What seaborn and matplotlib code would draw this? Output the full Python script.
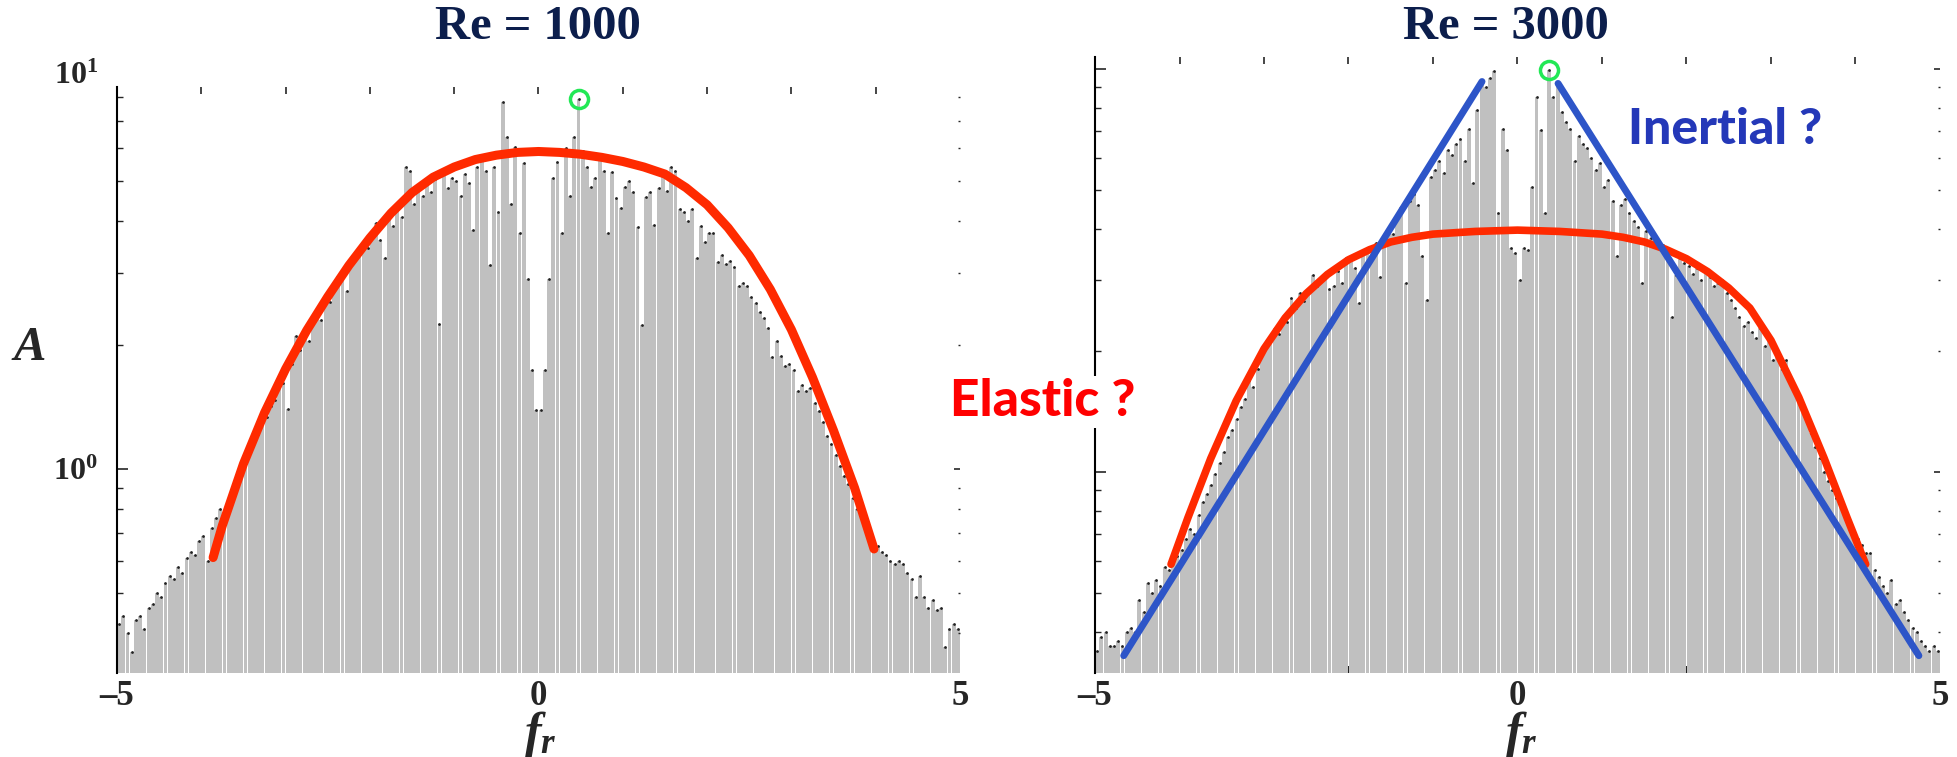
import numpy as np
import matplotlib
matplotlib.use("Agg")
import matplotlib.pyplot as plt
import seaborn as sns

# bin centres of the f_r axis (step 0.05)
f_r = np.round(np.arange(-4.975, 5.0, 0.05), 3)

# spectrum amplitude A, Re = 1000 (20 bins per unit of f_r)
amp_re1000 = [
    0.42, 0.44, 0.40, 0.36, 0.43, 0.44, 0.41, 0.46, 0.47, 0.50, 0.49, 0.53, 0.55, 0.54, 0.58, 0.56, 0.61, 0.63, 0.62, 0.67,
    0.69, 0.60, 0.72, 0.76, 0.80, 0.78, 0.84, 0.90, 0.93, 1.00, 1.06, 1.10, 1.18, 1.22, 1.30, 1.34, 1.42, 1.47, 1.58, 1.62,
    1.40, 1.80, 2.10, 1.95, 2.10, 2.05, 2.30, 2.38, 2.30, 2.60, 2.55, 2.75, 2.95, 3.00, 2.70, 3.20, 3.35, 3.30, 3.55, 3.45,
    3.70, 3.95, 3.60, 3.25, 4.20, 3.90, 4.35, 4.10, 5.40, 5.30, 4.40, 4.85, 4.60, 5.00, 4.70, 5.05, 2.25, 5.20, 4.80, 5.10,
    5.00, 4.60, 5.20, 4.95, 3.80, 5.40, 5.80, 5.30, 3.13, 5.40, 4.20, 7.80, 6.39, 4.40, 6.04, 3.74, 5.53, 2.90, 1.74, 1.39,
    1.39, 1.74, 2.90, 5.10, 5.56, 3.74, 6.00, 4.60, 6.40, 7.90, 5.90, 5.40, 4.85, 5.10, 5.80, 5.30, 3.74, 5.25, 4.55, 4.30,
    4.85, 5.00, 4.70, 3.87, 2.24, 4.58, 4.70, 3.92, 4.80, 5.24, 4.74, 5.40, 5.30, 4.27, 4.20, 4.00, 4.27, 3.25, 3.90, 3.55,
    3.75, 3.75, 3.18, 3.30, 3.15, 3.20, 3.10, 2.78, 2.83, 2.78, 2.62, 2.53, 2.40, 2.33, 2.20, 1.87, 2.05, 1.88, 1.78, 1.80,
    1.74, 1.55, 1.60, 1.55, 1.57, 1.45, 1.38, 1.30, 1.20, 1.15, 1.08, 1.02, 0.96, 0.92, 0.85, 0.80, 0.78, 0.74, 0.70, 0.66,
    0.65, 0.63, 0.62, 0.60, 0.59, 0.60, 0.59, 0.56, 0.54, 0.49, 0.55, 0.49, 0.46, 0.48, 0.455, 0.46, 0.37, 0.41, 0.42, 0.41,
]

# spectrum amplitude A, Re = 3000
amp_re3000 = [
    0.36, 0.39, 0.40, 0.37, 0.37, 0.38, 0.37, 0.40, 0.41, 0.40, 0.48, 0.45, 0.53, 0.50, 0.54, 0.52, 0.58, 0.57, 0.60, 0.62,
    0.64, 0.68, 0.72, 0.70, 0.78, 0.84, 0.88, 0.93, 0.99, 1.05, 1.12, 1.22, 1.27, 1.35, 1.45, 1.52, 1.69, 1.62, 1.80, 1.95,
    2.05, 2.15, 2.28, 2.20, 2.42, 2.35, 2.70, 2.55, 2.78, 2.65, 2.85, 3.08, 2.90, 3.00, 3.05, 2.85, 2.90, 3.15, 2.95, 3.40,
    3.43, 3.20, 2.62, 3.50, 3.55, 3.40, 3.70, 3.05, 3.85, 4.00, 3.90, 4.25, 4.55, 2.95, 4.70, 4.90, 4.60, 3.43, 2.67, 5.40,
    5.60, 5.90, 5.50, 6.30, 6.10, 6.50, 6.70, 5.90, 7.10, 5.20, 7.90, 9.30, 9.00, 9.50, 9.85, 4.40, 7.10, 6.30, 3.60, 3.50,
    3.00, 3.60, 3.55, 5.10, 8.50, 7.06, 4.40, 9.95, 8.50, 9.20, 7.80, 7.40, 7.10, 5.90, 6.80, 6.50, 6.35, 6.00, 5.60, 5.85,
    5.10, 5.30, 4.70, 3.43, 4.60, 4.75, 4.40, 4.20, 4.05, 2.95, 3.95, 3.80, 3.70, 3.60, 3.65, 3.50, 2.42, 3.08, 3.40, 3.30,
    3.25, 3.10, 3.20, 3.00, 3.15, 3.05, 2.90, 2.95, 3.00, 2.78, 2.67, 2.55, 2.42, 2.30, 2.35, 2.23, 2.15, 2.28, 2.05, 2.12,
    1.89, 1.95, 1.80, 1.90, 1.70, 1.62, 1.52, 1.40, 1.35, 1.25, 1.15, 1.08, 1.00, 0.95, 0.90, 0.86, 0.82, 0.78, 0.74, 0.70,
    0.68, 0.66, 0.63, 0.63, 0.57, 0.55, 0.52, 0.50, 0.54, 0.47, 0.48, 0.45, 0.43, 0.41, 0.40, 0.38, 0.37, 0.36, 0.37, 0.36,
]

# red "elastic" fit curves
elastic_1000_x = [-3.86, -3.75, -3.5, -3.25, -3.0, -2.75, -2.5, -2.25, -2.0, -1.75, -1.5, -1.25, -1.0, -0.75, -0.5, -0.25, 0.0,
                  0.25, 0.5, 0.75, 1.0, 1.25, 1.5, 1.75, 2.0, 2.25, 2.5, 2.75, 3.0, 3.25, 3.5, 3.75, 3.98]
elastic_1000_y = [0.61, 0.73, 1.03, 1.37, 1.75, 2.17, 2.62, 3.12, 3.64, 4.18, 4.69, 5.11, 5.41, 5.64, 5.78, 5.87, 5.90,
                  5.87, 5.81, 5.71, 5.58, 5.41, 5.20, 4.82, 4.38, 3.85, 3.30, 2.73, 2.18, 1.67, 1.24, 0.90, 0.64]
elastic_3000_x = [-4.1, -3.9, -3.63, -3.33, -3.0, -2.75, -2.5, -2.25, -2.0, -1.75, -1.5, -1.25, -1.0, -0.5, 0.0,
                  0.5, 1.0, 1.25, 1.5, 1.75, 2.0, 2.25, 2.5, 2.75, 3.0, 3.33, 3.63, 3.9, 4.12]
elastic_3000_y = [0.59, 0.77, 1.08, 1.50, 2.02, 2.41, 2.77, 3.09, 3.36, 3.56, 3.72, 3.82, 3.89, 3.95, 3.98,
                  3.95, 3.89, 3.82, 3.72, 3.57, 3.38, 3.14, 2.86, 2.55, 2.12, 1.53, 1.08, 0.77, 0.59]

# blue "inertial" straight lines (Re = 3000)
inertial_left_x = [-4.66, -0.42]
inertial_left_y = [0.35, 9.3]
inertial_right_x = [0.48, 4.75]
inertial_right_y = [9.2, 0.35]

titles = ["Re = 1000", "Re = 3000"]
x_tick_labels = ["\u20135", "0", "5"]

sns.set_style("white")
plt.rcParams["font.family"] = ["Liberation Serif", "DejaVu Sans"]
plt.rcParams["mathtext.fontset"] = "custom"
plt.rcParams["mathtext.rm"] = "Liberation Serif:bold"
plt.rcParams["mathtext.bf"] = "Liberation Serif:bold"
plt.rcParams["mathtext.it"] = "Liberation Serif:italic:bold"

BAR = "#c0c0c0"
RED = "#ff2a00"
BLUE = "#2d55c8"
NAVY = "#0c1e4c"
GREEN = "#22e855"

W, H = 1958, 757
fig = plt.figure(figsize=(W / 100, H / 100), dpi=100)
ax1 = fig.add_axes([117 / W, 84 / H, 843 / W, 586 / H])
ax2 = fig.add_axes([1095 / W, 84 / H, 845 / W, 616 / H])


def draw_panel(ax, amps, ylim):
    ax.set_yscale("log")
    ax.bar(f_r, amps, width=0.046, color=BAR, linewidth=0, zorder=1)
    sns.scatterplot(x=f_r, y=amps, ax=ax, s=4, color="#222222", linewidth=0, zorder=3, legend=False)
    ax.set_xlim(-5, 5)
    ax.set_ylim(*ylim)
    for side in ["top", "right", "bottom"]:
        ax.spines[side].set_visible(False)
    ax.spines["left"].set_color("black")
    ax.spines["left"].set_linewidth(1.5)
    ax.set_xticks([-5, 0, 5])
    ax.set_xticklabels(x_tick_labels, fontsize=25, fontweight="bold")
    ax.tick_params(axis="x", which="major", length=0, pad=5)
    ax.tick_params(axis="y", which="major", direction="in", length=8, width=1.2, left=True, right=False)
    ax.tick_params(axis="y", which="minor", direction="in", length=4, width=1.0, left=True, right=False)
    ax.yaxis.set_minor_locator(matplotlib.ticker.LogLocator(base=10, subs=np.arange(2, 10)))
    ax.yaxis.set_minor_formatter(matplotlib.ticker.NullFormatter())
    ax.set_xlabel("")
    ax.set_ylabel("")
    # tick marks along the top
    top = ax.secondary_xaxis("top")
    top.set_xticks(np.arange(-4, 5))
    top.set_xticklabels([])
    top.tick_params(direction="in", length=5, width=1.2)
    top.spines["top"].set_visible(False)
    # tick marks along the right
    rt = ax.twinx()
    rt.set_yscale("log")
    rt.set_ylim(*ylim)
    for side in ["top", "right", "bottom", "left"]:
        rt.spines[side].set_visible(False)
    rt.yaxis.set_minor_locator(matplotlib.ticker.LogLocator(base=10, subs=np.arange(2, 10)))
    rt.yaxis.set_minor_formatter(matplotlib.ticker.NullFormatter())
    rt.yaxis.set_major_formatter(matplotlib.ticker.NullFormatter())
    rt.tick_params(axis="y", which="major", direction="in", length=4, width=1.2)
    rt.tick_params(axis="y", which="minor", direction="in", length=1.2, width=1.0)
    rt.grid(False)
    ax.grid(False)


draw_panel(ax1, amp_re1000, (0.32, 8.46))
draw_panel(ax2, amp_re3000, (0.317, 10.7))

ax1.set_yticks([1])
ax1.set_yticklabels([r"$\mathbf{10^{0}}$"], fontsize=23)
ax1.tick_params(axis="y", which="major", pad=14)
ax2.set_yticks([1, 10])
ax2.set_yticklabels([])
ax2.set_xticks([-2, 2], minor=True)
ax2.tick_params(axis="x", which="minor", direction="in", length=5, width=1.5, bottom=True)

# fitted curves
sns.lineplot(x=elastic_1000_x, y=elastic_1000_y, ax=ax1, color=RED, linewidth=6.5, sort=False, estimator=None, zorder=4)
sns.lineplot(x=elastic_3000_x, y=elastic_3000_y, ax=ax2, color=RED, linewidth=5.5, sort=False, estimator=None, zorder=4)
sns.lineplot(x=inertial_left_x, y=inertial_left_y, ax=ax2, color=BLUE, linewidth=5.0, sort=False, estimator=None, zorder=5)
sns.lineplot(x=inertial_right_x, y=inertial_right_y, ax=ax2, color=BLUE, linewidth=5.0, sort=False, estimator=None, zorder=5)

# green circle on the highest peak of each spectrum
for ax, amps in [(ax1, amp_re1000), (ax2, amp_re3000)]:
    i = int(np.argmax(amps))
    ax.plot(f_r[i], amps[i], marker="o", ms=13, mfc="none", mec=GREEN, mew=2.5, zorder=6, clip_on=False)

# texts
fig.text(538 / W, 1 - 27 / H, titles[0], ha="center", va="center", fontsize=35, fontweight="bold", color=NAVY)
fig.text(1506 / W, 1 - 27 / H, titles[1], ha="center", va="center", fontsize=35, fontweight="bold", color=NAVY)
fig.text(98 / W, 1 - 76 / H, r"$\mathbf{10^{1}}$", ha="right", va="center", fontsize=23)
fig.text(28 / W, 1 - 348 / H, r"$A$", ha="center", va="center", fontsize=35)
fig.text(540 / W, 1 - 735 / H, r"$f_r$", ha="center", va="center", fontsize=36)
fig.text(1521 / W, 1 - 735 / H, r"$f_r$", ha="center", va="center", fontsize=36)
fig.text(1725 / W, 1 - 130 / H, "Inertial ?", ha="center", va="center", fontsize=36, fontweight="black",
         color="#2438b8", family=["Lato", "DejaVu Sans"])
fig.text(1043 / W, 1 - 402 / H, "Elastic ?", ha="center", va="center", fontsize=37, fontweight="black",
         color="#ff0000", family=["Lato", "DejaVu Sans"],
         bbox=dict(facecolor="white", edgecolor="none", pad=2))

fig.savefig("out.png", dpi=100)
